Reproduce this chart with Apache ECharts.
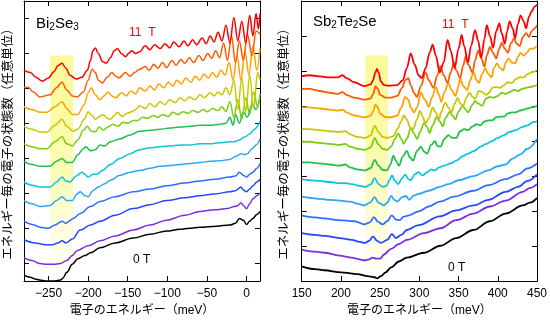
<!DOCTYPE html>
<html lang="ja">
<head>
<meta charset="UTF-8">
<title>ランダウ準位の状態密度</title>
<script src="https://cdn.jsdelivr.net/npm/echarts@6/dist/echarts.min.js"></script>
<style>
  html, body { margin: 0; background: #fff; }
  #chart { width: 550px; height: 322px; }
</style>
</head>
<body>
<div id="chart"></div>
<script>
// 磁場ごとの線の色（0 T → 11 T）
var fieldColors = ['#000000', '#7a2ee0', '#2448ff', '#2f6cff', '#2ea6f5', '#10c4dc',
                   '#1fc24a', '#7ccc10', '#c8c800', '#ffa200', '#ff5a00', '#ff0000'];

// 目盛り
var biTicks = [-250, -200, -150, -100, -50, 0];
var sbTicks = [150, 200, 250, 300, 350, 400, 450];
var biLevelTicks = [5, 15, 25, 35, 45, 55, 65, 75];
var sbLevelTicks = [0, 10, 20, 30, 40, 50, 60, 70, 80];

// 0 T ランダウ準位の帯 [左端 meV, 右端 meV, 上端]
var biBand = [-248, -219, 64.4];
var sbBand = [231, 260, 64.4];

// Bi2Se3 : [エネルギー(meV), 状態数(任意単位, オフセット込み)] の繰り返し
var bi0 = [-281,1.7, -273,1.1, -267,0.6, -261,0.3, -254,0, -242,0, -235,0.3, -232,0.8, -227,2.5, -220,4.8, -213,6.4, -204,7.3, -197,8.1, -185,9.5, -166,10.9, -143,12.3, -122,13.4, -101,14.3, -84,14.8, -72,15.1, -59,15.4, -38,15.7, -21,16.0, -14,16.5, -9,17.9, -4,17.4, 0,16.2, 4,17.1, 8,17.9, 13,19.0, 17,19.9];
var bi1 = [-281,6.7, -271,5.9, -261,5.0, -252,4.8, -244,4.8, -235,5.0, -227,5.9, -220,7.3, -214,8.7, -200,10.1, -185,11.5, -166,12.9, -143,14.6, -122,16.0, -101,17.4, -78,18.8, -59,19.9, -40,20.4, -25,20.7, -15,21.3, -11,21.6, -7,22.4, -4,21.6, 0,20.7, 4,22.1, 8,23.5, 13,24.4, 17,25.2];
var bi2 = [-281,11.8, -267,10.9, -254,10.4, -245,10.4, -238,10.9, -233,11.5, -228,10.9, -220,12.0, -210,14.6, -197,16.0, -185,17.1, -166,18.8, -143,20.7, -122,21.8, -101,23.0, -78,23.8, -59,24.4, -40,24.9, -21,25.5, -14,25.8, -7,26.9, -4,26.0, 0,25.5, 4,26.3, 8,27.2, 13,28.3, 17,29.1];
var bi3 = [-281,17.1, -271,16.2, -261,15.4, -250,15.1, -242,16.0, -233,17.1, -228,16.5, -224,17.1, -219,17.9, -210,19.3, -197,21.3, -185,22.7, -166,24.1, -143,25.5, -122,26.3, -101,27.2, -78,28.0, -59,28.6, -40,29.1, -21,29.7, -14,30.0, -9,31.1, -4,30.2, 0,29.7, 4,30.5, 8,31.1, 13,32.2, 17,33.6];
var bi4 = [-281,23.0, -271,22.1, -261,21.3, -248,21.6, -240,23.0, -233,24.1, -227,23.0, -220,23.0, -214,24.9, -210,25.5, -204,24.4, -200,24.1, -194,25.8, -187,26.9, -180,27.7, -172,28.8, -160,30.2, -147,31.1, -135,31.6, -122,32.2, -109,32.8, -97,33.0, -84,33.3, -72,33.6, -59,33.9, -46,34.2, -34,34.4, -21,34.7, -14,35.6, -7,36.4, -2,36.1, 1,36.4, 7,37.8, 12,38.9, 17,40.6];
var bi5 = [-281,28.3, -271,27.4, -261,26.9, -248,26.9, -240,28.3, -233,29.7, -228,28.6, -223,28.3, -215,30.0, -208,31.1, -204,30.5, -200,29.7, -194,30.5, -189,30.5, -182,31.6, -172,33.3, -160,35.0, -147,36.4, -135,37.5, -122,38.1, -109,38.4, -97,38.6, -84,38.9, -72,38.9, -59,39.2, -46,39.2, -34,39.5, -21,39.8, -15,39.8, -9,40.3, -2,41.2, 4,42.0, 10,43.4, 17,45.6];
var bi6 = [-281,34.2, -271,33.3, -261,32.8, -248,32.8, -240,34.2, -233,35.0, -227,33.9, -220,33.9, -213,36.1, -206,37.8, -203,38.4, -197,37.2, -191,37.5, -185,38.9, -179,38.6, -172,39.8, -160,40.6, -147,41.7, -135,42.8, -122,43.1, -109,43.4, -97,43.7, -84,44.0, -72,44.2, -59,44.5, -46,44.5, -34,44.8, -26,45.1, -21,46.8, -17,44.5, -14,47.6, -9,45.1, -4,48.4, 1,46.8, 7,50.4, 12,49.0, 17,52.4];
var bi7 = [-281,39.2, -271,38.4, -261,37.8, -252,37.8, -242,39.8, -233,41.2, -227,39.2, -220,38.6, -213,40.3, -206,43.1, -201,44.2, -196,42.8, -191,42.6, -186,44.0, -181,43.1, -175,44.0, -169,44.8, -162,44.2, -156,45.4, -150,45.1, -143,45.9, -137,45.9, -131,46.8, -125,46.5, -118,47.3, -112,46.8, -106,47.6, -99,47.0, -93,48.2, -87,47.6, -80,48.4, -74,47.9, -68,48.7, -61,48.2, -55,49.0, -49,48.4, -43,49.3, -36,48.7, -31,49.8, -26,48.4, -21,51.2, -16,46.8, -11,51.8, -6,46.2, -1,52.4, 4,47.6, 9,54.0, 14,49.6, 17,53.5];
var bi8 = [-281,44.2, -271,43.4, -261,42.6, -252,42.6, -242,44.5, -233,46.2, -227,44.2, -219,42.8, -213,43.4, -205,46.2, -200,48.4, -195,47.3, -191,46.2, -186,47.0, -181,47.6, -176,46.5, -172,46.2, -167,47.3, -163,48.2, -157,47.0, -151,47.9, -145,48.4, -140,49.0, -135,50.1, -128,49.3, -122,50.7, -116,49.8, -109,51.2, -103,50.4, -97,51.8, -90,51.0, -84,52.4, -78,51.5, -72,52.6, -65,51.8, -59,53.2, -53,52.4, -46,53.8, -41,52.9, -36,54.0, -31,53.2, -26,55.2, -21,53.2, -16,57.4, -11,49.0, -6,58.0, -1,48.4, 4,58.8, 9,49.6, 14,59.6, 17,57.4];
var bi9 = [-281,49.8, -271,49.0, -261,48.2, -252,48.2, -242,49.8, -233,51.2, -227,49.3, -220,47.6, -213,47.6, -205,50.4, -200,53.8, -196,55.2, -191,53.2, -185,51.8, -180,52.9, -175,54.0, -170,52.9, -165,52.4, -158,53.8, -152,52.9, -146,54.3, -140,53.5, -135,55.2, -128,54.3, -122,55.7, -116,54.6, -111,56.3, -104,55.2, -99,56.8, -93,55.7, -88,57.4, -82,56.3, -77,58.0, -70,56.8, -65,58.5, -59,57.4, -54,59.1, -48,58.0, -43,59.6, -38,58.2, -32,60.2, -27,58.8, -22,62.4, -17,57.4, -12,64.4, -7,57.4, -2,65.8, 3,58.8, 8,67.2, 13,60.2, 17,66.4];
var bi10 = [-281,55.2, -276,55.4, -269,54.0, -261,52.6, -248,53.2, -240,55.2, -233,56.8, -227,54.6, -220,52.9, -214,52.6, -206,54.0, -200,57.4, -195,60.5, -191,59.6, -187,57.4, -182,56.6, -176,58.2, -170,59.6, -165,58.5, -161,58.0, -153,59.6, -147,58.5, -141,59.6, -135,60.5, -128,61.3, -123,60.2, -117,61.9, -112,60.8, -106,62.4, -101,61.0, -94,63.0, -89,61.6, -83,63.3, -78,62.2, -72,63.8, -67,62.4, -60,64.4, -55,63.0, -49,65.0, -44,63.6, -39,65.8, -34,63.8, -29,68.0, -24,63.0, -19,70.0, -14,62.4, -9,68.6, -4,63.0, 1,70.6, 7,64.4, 12,71.4, 17,70.6];
var bi11 = [-281,60.2, -273,59.6, -266,58.2, -258,57.1, -250,58.0, -243,59.9, -238,61.6, -233,62.2, -228,60.8, -223,58.8, -215,57.7, -208,58.2, -201,60.2, -197,63.0, -194,65.8, -191,66.6, -187,65.0, -182,62.7, -177,62.2, -172,63.8, -167,65.8, -163,66.4, -158,65.0, -153,64.1, -148,65.2, -145,65.8, -140,65.0, -135,65.5, -128,67.2, -122,66.1, -116,67.5, -109,66.4, -103,67.8, -97,66.6, -92,68.3, -85,66.9, -79,68.6, -74,67.2, -68,68.9, -63,67.5, -56,69.4, -51,67.8, -46,70.0, -41,68.3, -36,71.1, -31,68.6, -26,73.1, -21,68.0, -16,75.3, -11,68.6, -6,74.2, -1,68.0, 4,75.9, 8,70.0, 12,76.4, 15,72.0, 17,76.4];

// Sb2Te2Se
var sb0 = [150,4.2, 167,3.4, 179,3.1, 200,2.5, 221,2.0, 234,1.4, 243,1.1, 246,0.8, 251,1.4, 257,2.5, 264,3.9, 274,5.6, 284,6.7, 306,8.1, 327,10.1, 347,12.3, 369,14.6, 390,17.1, 410,19.3, 432,21.6, 441,22.4, 450,23.8];
var sb1 = [150,9.0, 167,8.4, 179,8.1, 198,7.3, 214,6.7, 224,6.2, 230,5.9, 236,6.2, 240,6.7, 245,6.4, 250,6.4, 255,7.6, 264,9.2, 274,10.6, 284,11.8, 306,13.7, 327,15.1, 347,17.4, 369,19.3, 390,21.3, 410,23.0, 432,25.5, 441,26.6, 450,27.7];
var sb2 = [150,13.7, 167,13.2, 179,12.9, 198,12.3, 214,11.8, 224,11.2, 230,10.9, 236,11.5, 241,12.8, 246,11.5, 251,10.9, 259,11.8, 265,13.4, 270,12.3, 277,13.2, 284,14.6, 299,16.0, 326,18.5, 347,20.2, 369,21.6, 388,23.2, 410,25.5, 426,26.9, 438,28.6, 450,30.5];
var sb3 = [150,18.8, 167,18.2, 179,17.9, 198,17.4, 217,17.1, 230,16.2, 237,16.8, 242,18.3, 247,17.0, 253,16.2, 259,17.1, 265,18.8, 270,17.6, 275,17.4, 280,18.4, 287,18.8, 299,19.9, 312,21.3, 326,22.7, 344,24.1, 369,25.8, 388,27.4, 410,29.1, 426,30.5, 438,32.2, 450,33.6];
var sb4 = [150,24.1, 160,23.8, 173,23.5, 186,23.2, 198,23.0, 212,22.7, 221,22.1, 230,21.6, 237,22.4, 243,24.0, 248,22.4, 255,21.6, 259,22.4, 264,24.3, 268,23.2, 272,22.7, 278,24.0, 283,24.3, 287,23.2, 293,24.4, 299,24.9, 312,25.8, 326,26.9, 337,27.7, 350,28.8, 369,30.0, 388,31.6, 400,32.8, 410,33.3, 419,35.0, 428,36.1, 438,37.8, 450,40.6];
var sb5 = [150,29.1, 160,28.8, 173,28.6, 186,28.3, 198,28.0, 206,28.0, 214,27.7, 224,27.2, 231,26.9, 238,27.6, 243,29.4, 248,27.7, 253,26.9, 258,27.2, 262,28.8, 265,30.2, 269,28.6, 273,27.7, 278,29.4, 282,30.4, 286,29.1, 289,28.8, 294,30.5, 299,31.1, 304,30.2, 310,31.1, 315,31.9, 320,31.6, 325,32.5, 332,33.0, 340,33.6, 347,34.4, 355,35.6, 362,36.4, 370,37.2, 378,38.4, 385,39.2, 393,40.0, 400,40.9, 408,41.7, 415,42.6, 423,43.1, 431,44.0, 438,44.5, 445,45.4, 450,45.6];
var sb6 = [150,33.9, 160,33.9, 173,33.6, 186,33.3, 198,33.0, 206,33.3, 211,32.5, 221,31.9, 231,31.6, 238,32.3, 243,34.6, 248,33.0, 253,31.8, 259,31.6, 263,33.3, 267,35.8, 270,34.4, 274,33.0, 279,35.6, 284,37.2, 288,35.3, 292,34.4, 297,37.2, 302,38.4, 306,37.0, 310,36.4, 315,38.9, 320,40.0, 323,38.6, 327,38.4, 332,40.6, 337,41.7, 342,40.9, 347,40.9, 352,42.8, 357,43.4, 362,43.1, 368,44.2, 373,44.8, 378,44.5, 383,45.6, 388,45.9, 393,45.9, 398,46.8, 403,47.0, 408,47.0, 413,47.9, 418,48.2, 423,48.2, 428,48.7, 433,49.0, 438,49.3, 443,49.6, 450,50.1];
var sb7 = [150,39.8, 160,39.8, 173,39.5, 186,39.2, 198,38.9, 206,39.2, 211,38.4, 221,37.8, 231,37.5, 238,38.2, 243,40.8, 248,39.0, 253,37.8, 259,37.5, 264,38.4, 269,40.6, 273,42.2, 277,40.6, 280,39.2, 284,40.6, 289,43.6, 293,42.3, 297,40.6, 301,42.6, 306,45.1, 310,44.0, 313,42.3, 317,44.5, 322,46.8, 326,45.6, 330,44.2, 333,46.5, 339,48.4, 342,47.3, 346,46.2, 350,48.4, 355,50.1, 359,49.0, 362,48.2, 368,50.4, 371,51.5, 375,50.7, 380,50.1, 385,52.1, 390,52.6, 395,52.4, 400,52.9, 405,53.8, 410,53.5, 415,54.0, 421,54.6, 426,54.3, 431,54.9, 436,55.2, 441,55.4, 446,55.7, 450,56.0];
var sb8 = [150,43.4, 160,43.4, 173,43.1, 186,42.8, 198,42.6, 206,42.8, 211,42.0, 221,41.2, 231,40.9, 238,41.6, 243,44.4, 248,42.6, 253,41.2, 259,40.9, 267,41.4, 272,43.4, 277,45.6, 280,47.3, 284,46.2, 288,44.0, 292,43.4, 297,46.2, 301,48.7, 304,47.0, 308,45.1, 312,46.5, 317,49.6, 321,48.2, 325,46.2, 328,48.4, 333,51.0, 337,49.6, 341,48.2, 345,50.7, 349,52.4, 352,50.7, 356,50.1, 360,52.4, 364,53.8, 368,52.6, 371,52.1, 376,54.3, 380,54.0, 385,53.2, 389,53.8, 393,55.2, 398,55.4, 403,55.2, 408,56.0, 413,56.8, 418,56.6, 423,57.7, 428,58.2, 433,58.2, 438,59.1, 443,59.6, 450,60.2];
var sb9 = [150,49.6, 160,49.6, 173,49.3, 186,49.0, 196,48.7, 202,49.0, 207,48.2, 217,47.3, 230,46.8, 238,47.2, 241,48.4, 244,50.4, 247,49.6, 250,47.8, 257,46.8, 264,46.8, 272,47.3, 277,49.6, 282,52.6, 286,51.8, 289,49.6, 293,48.2, 297,49.6, 302,53.8, 307,51.8, 312,49.8, 316,52.4, 321,55.4, 325,53.2, 328,51.2, 332,54.0, 337,56.6, 341,54.6, 346,52.9, 350,55.7, 352,58.0, 356,55.7, 361,54.6, 365,57.4, 369,59.6, 373,57.4, 376,56.6, 380,59.1, 384,60.8, 388,59.1, 392,58.2, 395,60.8, 399,62.2, 403,60.8, 407,60.2, 410,62.4, 414,63.6, 418,62.4, 422,62.2, 426,64.1, 429,65.2, 433,64.4, 437,65.2, 441,66.4, 445,66.4, 450,67.2];
var sb10 = [150,54.9, 160,54.9, 173,54.3, 186,53.8, 196,53.5, 202,54.0, 207,53.2, 217,52.4, 230,51.8, 238,52.2, 241,53.4, 244,55.6, 247,55.0, 250,53.2, 257,52.4, 264,52.4, 272,52.9, 278,55.2, 282,57.4, 286,58.0, 289,56.0, 293,53.8, 297,52.6, 302,55.7, 308,59.6, 312,57.4, 318,55.2, 323,58.8, 327,61.3, 331,58.8, 336,56.6, 340,59.6, 344,62.4, 347,60.2, 352,58.0, 356,61.6, 359,64.1, 362,61.9, 368,59.6, 371,63.0, 375,65.8, 379,63.6, 383,61.3, 386,64.4, 390,66.9, 394,65.2, 398,63.6, 402,66.4, 405,68.0, 409,66.4, 413,65.2, 417,68.0, 421,69.4, 424,67.8, 428,67.2, 432,69.7, 436,70.8, 440,69.7, 443,71.4, 447,72.2, 450,73.1];
var sb11 = [150,58.5, 160,58.8, 173,58.5, 186,58.2, 196,58.2, 202,58.8, 207,58.0, 217,56.8, 230,55.7, 238,56.2, 241,57.4, 244,59.6, 246,60.6, 248,59.6, 251,57.0, 255,56.0, 261,55.8, 272,56.0, 279,57.4, 284,60.8, 289,65.0, 294,61.9, 299,58.8, 303,58.0, 308,60.8, 313,65.2, 317,67.5, 321,64.4, 326,59.6, 331,62.4, 336,68.9, 340,65.8, 345,60.8, 350,66.4, 354,70.3, 357,67.2, 362,62.4, 366,67.2, 371,71.7, 375,68.6, 379,63.8, 383,69.2, 386,73.1, 390,70.0, 394,66.6, 398,71.4, 402,73.6, 405,70.8, 409,67.8, 412,71.4, 415,74.2, 419,72.2, 422,69.4, 426,73.6, 429,75.9, 433,74.2, 436,72.2, 440,75.6, 443,77.0, 447,78.4, 450,79.0];

var biCurves = [bi0, bi1, bi2, bi3, bi4, bi5, bi6, bi7, bi8, bi9, bi10, bi11];
var sbCurves = [sb0, sb1, sb2, sb3, sb4, sb5, sb6, sb7, sb8, sb9, sb10, sb11];

var FONT = "'Liberation Sans', Arial, 'Noto Sans CJK JP', sans-serif";
var yName = 'エネルギー毎の電子の状態数（任意単位）';
var xName = '電子のエネルギー（meV）';

function pairs(flat) {
  var out = [];
  for (var i = 0; i < flat.length; i += 2) out.push([flat[i], flat[i + 1]]);
  return out;
}

function energyAxis(grid, min, max, ticks, bottom) {
  var ax = {
    gridIndex: grid, type: 'value', min: min, max: max,
    position: bottom ? 'bottom' : 'top',
    axisLine: { show: true, onZero: false, lineStyle: { color: '#000', width: 1 } },
    axisTick: { show: true, inside: true, length: 5, customValues: ticks, lineStyle: { color: '#000' } },
    axisLabel: { show: bottom, customValues: ticks, margin: 7, color: '#000', fontSize: 12, fontFamily: FONT,
      formatter: function (v) { return String(v).replace('-', '\u2212'); } },
    splitLine: { show: false }
  };
  if (bottom) {
    ax.name = xName;
    ax.nameLocation = 'middle';
    ax.nameGap = 21;
    ax.nameTextStyle = { color: '#000', fontSize: 12, fontFamily: FONT };
  }
  return ax;
}

function levelAxis(grid, ticks, left, gap) {
  var ax = {
    gridIndex: grid, type: 'value', min: 0, max: 80,
    position: left ? 'left' : 'right',
    axisLine: { show: true, onZero: false, lineStyle: { color: '#000', width: 1 } },
    axisTick: { show: true, inside: true, length: 5, customValues: ticks, lineStyle: { color: '#000' } },
    axisLabel: { show: false },
    splitLine: { show: false }
  };
  if (left) {
    ax.name = yName;
    ax.nameLocation = 'middle';
    ax.nameGap = gap;
    ax.nameTextStyle = { color: '#000', fontSize: 12.5, fontFamily: FONT };
  }
  return ax;
}

// 帯は上が黄色、下に向かって白く抜ける
var bandColor = {
  type: 'linear', x: 0, y: 0, x2: 0, y2: 1,
  colorStops: [
    { offset: 0, color: '#fbfa98' },
    { offset: 0.5, color: '#fcfbb4' },
    { offset: 1, color: '#ffffff' }
  ]
};

function bandSeries(xi, yi, band) {
  return {
    type: 'line', xAxisIndex: xi, yAxisIndex: yi, data: [], silent: true, z: 1,
    markArea: {
      silent: true,
      itemStyle: { color: bandColor, borderRadius: 3 },
      data: [[{ coord: [band[0], 0] }, { coord: [band[1], band[2]] }]]
    }
  };
}

function curveSeries(list, xi, yi, width) {
  return list.map(function (flat, i) {
    return {
      type: 'line', xAxisIndex: xi, yAxisIndex: yi,
      data: pairs(flat), symbol: 'none', silent: true,
      smooth: 0.35, smoothMonotone: 'x',
      lineStyle: { color: fieldColors[i], width: width },
      z: 3
    };
  });
}

var option = {
  animation: false,
  backgroundColor: '#fff',
  grid: [
    { left: 24, top: 1, width: 236, height: 284 },
    { left: 301.7, top: 1, width: 237.6, height: 284 }
  ],
  xAxis: [
    energyAxis(0, -281, 17, biTicks, true),
    energyAxis(0, -281, 17, biTicks, false),
    energyAxis(1, 150, 450, sbTicks, true),
    energyAxis(1, 150, 450, sbTicks, false)
  ],
  yAxis: [
    levelAxis(0, biLevelTicks, true, 9),
    levelAxis(0, biLevelTicks, false),
    levelAxis(1, sbLevelTicks, true, 11),
    levelAxis(1, sbLevelTicks, false)
  ],
  title: [
    { text: 'Bi{s|2}Se{s|3}', left: 36, top: 15, padding: 0,
      textStyle: { fontSize: 15, fontWeight: 'normal', color: '#000', fontFamily: FONT,
        rich: { s: { fontSize: 10, padding: [7, 0, 0, 0], fontFamily: FONT, color: '#000' } } } },
    { text: 'Sb{s|2}Te{s|2}Se', left: 313, top: 13, padding: 0,
      textStyle: { fontSize: 15, fontWeight: 'normal', color: '#000', fontFamily: FONT,
        rich: { s: { fontSize: 10, padding: [7, 0, 0, 0], fontFamily: FONT, color: '#000' } } } },
    { text: '11  T', left: 129, top: 27, padding: 0,
      textStyle: { fontSize: 12, fontWeight: 'normal', color: '#ff0000', fontFamily: FONT } },
    { text: '0 T', left: 133, top: 254, padding: 0,
      textStyle: { fontSize: 12, fontWeight: 'normal', color: '#000', fontFamily: FONT } },
    { text: '11  T', left: 442, top: 19, padding: 0,
      textStyle: { fontSize: 12, fontWeight: 'normal', color: '#ff0000', fontFamily: FONT } },
    { text: '0 T', left: 448, top: 262, padding: 0,
      textStyle: { fontSize: 12, fontWeight: 'normal', color: '#000', fontFamily: FONT } }
  ],
  series: [bandSeries(0, 0, biBand), bandSeries(2, 2, sbBand)]
    .concat(curveSeries(biCurves, 0, 0, 1.5))
    .concat(curveSeries(sbCurves, 2, 2, 1.8))
};

var chart = echarts.init(document.getElementById('chart'));
chart.setOption(option);
</script>
</body>
</html>
